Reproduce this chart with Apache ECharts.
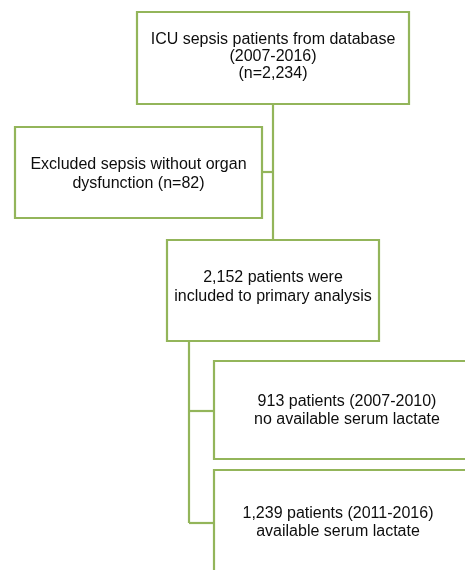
<!DOCTYPE html>
<html>
<head>
<meta charset="utf-8">
<script src="https://cdn.jsdelivr.net/npm/echarts@6/dist/echarts.min.js"></script>
<style>
  html, body { margin: 0; padding: 0; background: #fff; }
  #chart { width: 465px; height: 570px; }
</style>
</head>
<body>
<div id="chart"></div>
<script>
// box texts (top to bottom)
var boxLabels = [
  'ICU sepsis patients from database\n(2007-2016)\n(n=2,234)',
  'Excluded sepsis without organ\ndysfunction (n=82)',
  '2,152 patients were\nincluded to primary analysis',
  '913 patients (2007-2010)\nno available serum lactate',
  '1,239 patients (2011-2016)\navailable serum lactate'
];

// layout: [x0, y0, x1, y1] in page units, text offset
var boxRects = [
  [137, 12, 409, 104],
  [15, 127, 262, 218],
  [167, 240, 379, 341],
  [214, 361, 480, 459],
  [214, 470, 480, 575]
];
var textOffsets = [[0, -1], [0, 1.5], [0, -3], [0, 0.5], [-9, 0.5]];
var lineHeights = [17, 19, 19, 18, 18];

// connector segments
var connectors = [
  [[273, 104], [273, 240]],
  [[262, 172], [273, 172]],
  [[189, 341], [189, 523]],
  [[189, 411], [214, 411]],
  [[189, 523], [214, 523]]
];

var green = '#93b55a';

var boxData = boxRects.map(function (r, i) {
  return { value: r.concat([i]), name: boxLabels[i] };
});

var chart = echarts.init(document.getElementById('chart'));
var option = {
  backgroundColor: '#ffffff',
  animation: false,
  grid: { left: 0, right: 0, top: 0, bottom: 0 },
  xAxis: { type: 'value', min: 0, max: 465, show: false },
  yAxis: { type: 'value', min: 0, max: 570, inverse: true, show: false },
  series: [
    {
      type: 'lines',
      coordinateSystem: 'cartesian2d',
      polyline: false,
      silent: true,
      lineStyle: { color: green, width: 2.2, opacity: 1 },
      data: connectors.map(function (c) { return { coords: c }; }),
      z: 1
    },
    {
      type: 'custom',
      coordinateSystem: 'cartesian2d',
      silent: true,
      data: boxData,
      renderItem: function (params, api) {
        var p0 = api.coord([api.value(0), api.value(1)]);
        var p1 = api.coord([api.value(2), api.value(3)]);
        var idx = api.value(4);
        var off = textOffsets[idx];
        return {
          type: 'group',
          children: [
            {
              type: 'rect',
              shape: { x: p0[0], y: p0[1], width: p1[0] - p0[0], height: p1[1] - p0[1] },
              style: { fill: '#ffffff', stroke: green, lineWidth: 2.2 }
            },
            {
              type: 'text',
              x: (p0[0] + p1[0]) / 2 + off[0],
              y: (p0[1] + p1[1]) / 2 + off[1],
              style: {
                text: boxLabels[idx],
                fill: '#0d0d0d',
                font: '16px "Liberation Sans", Arial, sans-serif',
                lineHeight: lineHeights[idx],
                align: 'center',
                verticalAlign: 'middle'
              }
            }
          ]
        };
      },
      z: 2
    }
  ]
};
chart.setOption(option);
window.addEventListener('resize', function () { chart.resize(); });
</script>
</body>
</html>
